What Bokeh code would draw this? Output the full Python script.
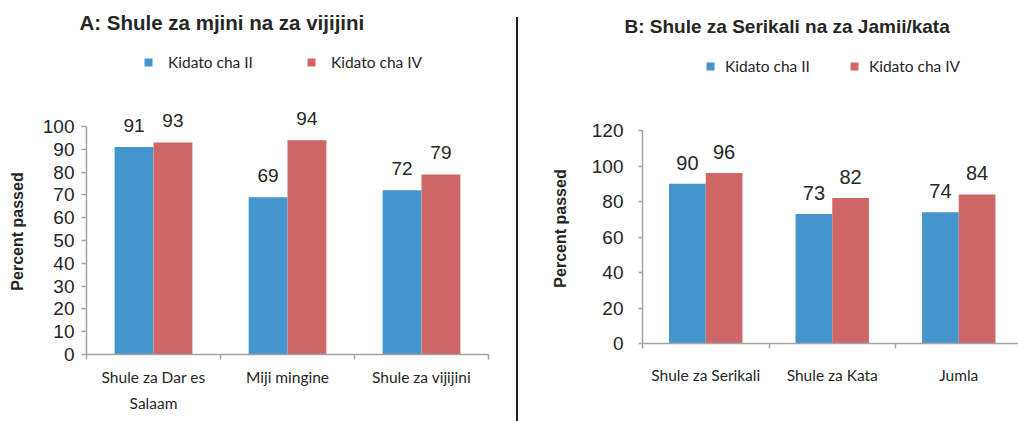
from bokeh.plotting import figure
from bokeh.models import (Range1d, FixedTicker, ColumnDataSource, LabelSet,
                          Legend, LegendItem, Spacer)
from bokeh.layouts import row, column
from bokeh.embed import file_html
from bokeh.resources import INLINE
from bokeh.core.properties import value

# ---------------- data ----------------
series_names = ["Kidato cha II", "Kidato cha IV"]
y_label = "Percent passed"

title_a = "A: Shule za mjini na za vijijini"
a_categories = ["Shule za Dar es\nSalaam", "Miji mingine", "Shule za vijijini"]
a_form2 = [91, 69, 72]
a_form4 = [93, 94, 79]
a_yticks = [0, 10, 20, 30, 40, 50, 60, 70, 80, 90, 100]

title_b = "B: Shule za Serikali na za Jamii/kata"
b_categories = ["Shule za Serikali", "Shule za Kata", "Jumla"]
b_form2 = [90, 73, 74]
b_form4 = [96, 82, 84]
b_yticks = [0, 20, 40, 60, 80, 100, 120]

# ---------------- style ----------------
BLUE = "#4495cd"
RED = "#cd6664"
AXIS = "#a3a3a3"
TEXT = "#262626"
NUM_FONT = "Liberation Sans"
TXT_FONT = "Lato"
BW = 0.29
HEAD_H = 100
CHART_H = 321


def make_source(cats, s2, s4):
    centers = [i + 0.5 for i in range(len(cats))]
    return ColumnDataSource(dict(
        x2=[c - BW / 2 for c in centers], x4=[c + BW / 2 for c in centers],
        v2=s2, v4=s4, t2=[str(v) for v in s2], t4=[str(v) for v in s4]))


def header(width, src, xend, title, toff, htop, tsize, lloc, lstand, lspace):
    h = figure(width=width, height=HEAD_H, x_range=Range1d(0, xend),
               y_range=Range1d(0, HEAD_H - htop),
               x_axis_type=None, y_axis_type=None, output_backend="svg",
               toolbar_location=None, title=title, title_location="above",
               min_border_left=0, min_border_right=0, min_border_top=htop,
               min_border_bottom=0)
    h.xgrid.visible = False
    h.ygrid.visible = False
    h.outline_line_color = None
    h.title.align = "left"
    h.title.vertical_align = "bottom"
    h.title.offset = toff
    h.title.standoff = 10
    h.title.text_font = NUM_FONT
    h.title.text_font_style = "bold"
    h.title.text_font_size = tsize
    h.title.text_color = TEXT
    # hidden copies of the bars: they only give the legend its colour swatches
    r2 = h.vbar(x="x2", top="v2", bottom=0, width=BW, source=src, fill_color=BLUE,
                line_color=None, visible=False)
    r4 = h.vbar(x="x4", top="v4", bottom=0, width=BW, source=src, fill_color=RED,
                line_color=None, visible=False)
    legend = Legend(items=[LegendItem(label=series_names[0], renderers=[r2]),
                           LegendItem(label=series_names[1], renderers=[r4])],
                    orientation="horizontal", location=lloc, padding=0, margin=0,
                    border_line_color=None, background_fill_alpha=0,
                    inactive_fill_alpha=0, click_policy="none",
                    glyph_width=10, glyph_height=10, label_standoff=lstand,
                    spacing=lspace, label_text_font=TXT_FONT, label_text_baseline="alphabetic",
                    label_text_font_size="15.5px", label_text_color=TEXT)
    h.add_layout(legend)
    return h


def chart(cats, src, yticks, ytop, yend, width, mb, xend, opts):
    p = figure(width=width, height=CHART_H, x_range=Range1d(0, xend), y_range=Range1d(0, yend),
               output_backend="svg", toolbar_location=None, title_location=None,
               min_border_left=mb[0], min_border_right=mb[1],
               min_border_top=mb[2], min_border_bottom=mb[3])
    p.xgrid.visible = False
    p.ygrid.visible = False
    p.outline_line_color = None

    n = len(cats)
    centers = [i + 0.5 for i in range(n)]
    bounds = [float(i) for i in range(n + 1)]
    p.vbar(x="x2", top="v2", bottom=0, width=BW, source=src, fill_color=BLUE, line_color=None)
    p.vbar(x="x4", top="v4", bottom=0, width=BW, source=src, fill_color=RED, line_color=None)

    for xs, ys, ts in (("x2", "v2", "t2"), ("x4", "v4", "t4")):
        p.add_layout(LabelSet(x=xs, y=ys, text=ts, source=src, y_offset=opts["voff"],
                              text_align="center", text_baseline="alphabetic",
                              text_font=value(NUM_FONT), text_font_size=value(opts["vsize"]),
                              text_color=TEXT))

    xa = p.xaxis[0]
    xa.ticker = FixedTicker(ticks=centers, minor_ticks=bounds)
    xa.major_label_overrides = {c: lab for c, lab in zip(centers, cats)}
    xa.axis_line_color = AXIS
    xa.axis_line_width = 1.5
    xa.major_tick_out = 0
    xa.major_tick_in = 0
    xa.major_tick_line_color = None
    xa.minor_tick_out = 5
    xa.minor_tick_in = 0
    xa.minor_tick_line_color = AXIS
    xa.minor_tick_line_width = 1.5
    xa.major_label_standoff = opts["xstand"]
    xa.major_label_text_font = TXT_FONT
    xa.major_label_text_font_size = "15.5px"
    xa.major_label_text_color = TEXT
    xa.major_label_text_line_height = 1.48

    ya = p.yaxis[0]
    ya.ticker = FixedTicker(ticks=yticks)
    ya.bounds = (0, ytop)
    ya.axis_line_color = AXIS
    ya.axis_line_width = 1.5
    ya.major_tick_out = opts["ytick"]
    ya.major_tick_in = 0
    ya.major_tick_line_color = AXIS
    ya.major_tick_line_width = 1.5
    ya.minor_tick_line_color = None
    ya.major_label_standoff = opts["ystand"]
    ya.major_label_text_font = NUM_FONT
    ya.major_label_text_font_size = "19px"
    ya.major_label_text_color = TEXT
    ya.axis_label = y_label
    ya.axis_label_text_font = NUM_FONT
    ya.axis_label_text_font_style = "bold"
    ya.axis_label_text_font_size = "16px"
    ya.axis_label_text_color = TEXT
    ya.axis_label_standoff = opts["astand"]
    return p


srcA = make_source(a_categories, a_form2, a_form4)
srcB = make_source(b_categories, b_form2, b_form4)

# Panel A (page x 0..516): frame x 86..488, y 108..354 ; 100 -> y 126
xendA = 3
hA = header(516, srcA, xendA, title_a, -7, 38, "20.5px", (143 - 86, 29), 15, 53)
cA = chart(a_categories, srcA, a_yticks, 100, 100 * (354 - 108) / (354 - 126),
           516, (86, 28, 8, 67), xendA,
           dict(voff=15, vsize="19px", xstand=8, ytick=5, ystand=7, astand=14))

# Panel B (page x 518..1018): frame x 642..1018, y 113..343 ; 120 -> y 130
xendB = (1018 - 642) / 126.5
hB = header(500, srcB, xendB, title_b, -18, 41, "19px", (705 - 642, 25), 10, 39)
cB = chart(b_categories, srcB, b_yticks, 120, 120 * (343 - 113) / (343 - 130),
           500, (124, 0, 13, 78), xendB,
           dict(voff=14, vsize="20px", xstand=17, ytick=4, ystand=15, astand=20))

sep = Spacer(width=2, height=404, margin=(17, 0, 0, 0), styles={"background-color": "#231f20"})

layout = row(column(hA, cA), sep, column(hB, cB))
open("out.html", "w").write(file_html(layout, INLINE))
